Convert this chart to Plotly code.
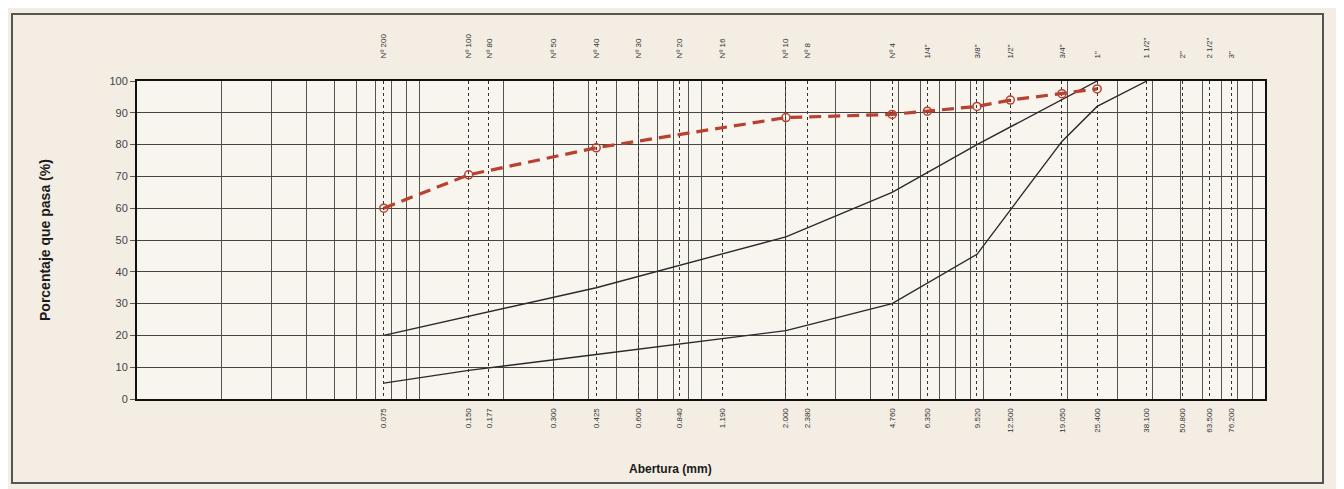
import plotly.graph_objects as go

# ---------------- data ----------------
sieve_names = ["Nº 200", "Nº 100", "Nº 80", "Nº 50", "Nº 40", "Nº 30", "Nº 20", "Nº 16",
               "Nº 10", "Nº 8", "Nº 4", '1/4"', '3/8"', '1/2"', '3/4"', '1"', '1 1/2"',
               '2"', '2 1/2"', '3"']
openings = [0.075, 0.150, 0.177, 0.300, 0.425, 0.600, 0.840, 1.190, 2.000, 2.380, 4.760,
            6.350, 9.520, 12.500, 19.050, 25.400, 38.100, 50.800, 63.500, 76.200]
opening_labels = ["0.075", "0.150", "0.177", "0.300", "0.425", "0.600", "0.840", "1.190",
                  "2.000", "2.380", "4.760", "6.350", "9.520", "12.500", "19.050", "25.400",
                  "38.100", "50.800", "63.500", "76.200"]

sample_size = [0.075, 0.150, 0.425, 2.000, 4.760, 6.350, 9.520, 12.500, 19.050, 25.400]
sample_pass = [60, 70.5, 79, 88.5, 89.5, 90.5, 92, 94, 96, 97.5]

upper_size = [0.075, 0.150, 0.425, 2.000, 4.760, 9.520, 25.400]
upper_pass = [20, 26, 35, 51, 65, 80, 100]

lower_size = [0.075, 0.150, 0.425, 2.000, 4.760, 9.520, 19.050, 25.400, 38.100]
lower_pass = [5, 9, 14, 21.5, 30, 45.5, 81, 92, 100]

y_ticks = [0, 10, 20, 30, 40, 50, 60, 70, 80, 90, 100]
log_grid = [m * 10 ** k for k in (-2, -1, 0, 1) for m in range(1, 10)] + [100]

# ---------------- layout geometry ----------------
# the page body adds an 8px offset; the figure is sized/placed to compensate
OFF = 8
W, H = 1344 - OFF, 489 - OFF
PW, PH = 1128, 318
L, T = 137 - OFF, 81 - OFF
R, B = W - L - PW, H - T - PH


def px_to_paper_x(px):  # px in screen (reference) pixels
    return (px - OFF - L) / PW


def px_to_paper_y(py):
    return (T + PH - (py - OFF)) / PH


FONT = "Arial, Liberation Sans, sans-serif"

fig = go.Figure()

fig.add_trace(go.Scatter(
    x=lower_size, y=lower_pass, mode="lines",
    line=dict(color="#2a2a2a", width=1.4), showlegend=False, hoverinfo="skip"))
fig.add_trace(go.Scatter(
    x=upper_size, y=upper_pass, mode="lines",
    line=dict(color="#2a2a2a", width=1.4), showlegend=False, hoverinfo="skip"))
fig.add_trace(go.Scatter(
    x=sample_size, y=sample_pass, mode="lines+markers",
    line=dict(color="#b8412f", width=3.2, dash="12px,7px"),
    marker=dict(symbol="circle-open", size=8, color="#b8412f", line=dict(width=1.5)),
    showlegend=False))
# invisible trace to activate the top axis
fig.add_trace(go.Scatter(x=[openings[0]], y=[0], xaxis="x2", mode="markers",
                         marker=dict(opacity=0), showlegend=False, hoverinfo="skip"))

annotations = [
    dict(text="<b>Porcentaje que pasa (%)</b>", xref="paper", yref="paper",
         x=px_to_paper_x(45), y=px_to_paper_y(240), xanchor="center", yanchor="middle",
         textangle=-90, showarrow=False,
         font=dict(family=FONT, size=14, color="#1a1a1a")),
    dict(text="<b>Abertura (mm)</b>", xref="paper", yref="paper",
         x=px_to_paper_x(670), y=px_to_paper_y(469), xanchor="center", yanchor="middle",
         showarrow=False,
         font=dict(family=FONT, size=12, color="#1a1a1a")),
]

shapes = [dict(type="rect", xref="paper", yref="paper",
               x0=px_to_paper_x(12), x1=px_to_paper_x(1323),
               y0=px_to_paper_y(483), y1=px_to_paper_y(14),
               line=dict(color="#555555", width=2), layer="below")]

fig.update_layout(
    width=W, height=H,
    margin=dict(l=L, r=R, t=T, b=B, autoexpand=False),
    paper_bgcolor="#f3ede4", plot_bgcolor="#f8f4ee",
    showlegend=False,
    annotations=annotations, shapes=shapes,
    xaxis=dict(
        type="log", range=[-2, 2], automargin=False,
        tickmode="array", tickvals=openings, ticktext=opening_labels,
        tickangle=-90, ticks="outside", ticklen=4, tickcolor="rgba(0,0,0,0)",
        tickfont=dict(family=FONT, size=8, color="#333"),
        showgrid=True, gridcolor="#333333", gridwidth=1, griddash="dot",
        minor=dict(tickmode="array", tickvals=log_grid, showgrid=True,
                   gridcolor="#555555", gridwidth=1, griddash="solid", ticks=""),
        showline=True, linecolor="#111111", linewidth=2, mirror=True,
        zeroline=False),
    xaxis2=dict(
        type="log", range=[-2, 2], overlaying="x", side="top", automargin=False,
        tickmode="array", tickvals=openings, ticktext=sieve_names,
        tickangle=-90, ticks="outside", ticklen=20, tickcolor="rgba(0,0,0,0)",
        tickfont=dict(family=FONT, size=8, color="#333"),
        showgrid=False, showline=False, zeroline=False),
    yaxis=dict(
        range=[0, 100], tickmode="array", tickvals=y_ticks, automargin=False,
        ticks="outside", ticklen=5, tickcolor="#555",
        tickfont=dict(family=FONT, size=11, color="#444"),
        showgrid=True, gridcolor="#444444", gridwidth=1,
        showline=True, linecolor="#111111", linewidth=2, mirror=True,
        zeroline=False),
)

fig.write_html("out.html")
